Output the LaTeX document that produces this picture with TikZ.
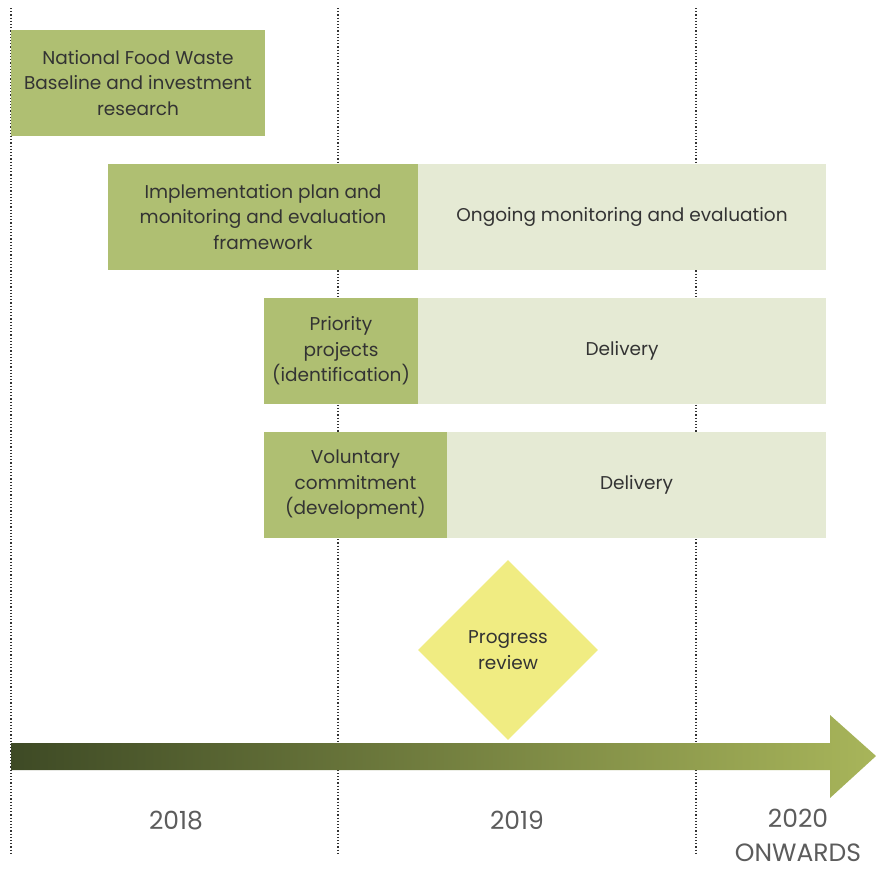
\documentclass[tikz,border=0pt]{standalone}
\usepackage{fontspec}
\setmainfont{Poppins}
\usetikzlibrary{shapes.geometric}
\definecolor{phasegreen}{HTML}{AFBF72}
\definecolor{ongoinggreen}{HTML}{E5EAD4}
\definecolor{reviewyellow}{HTML}{F0EC82}
\definecolor{arrowdark}{HTML}{3E4A25}
\definecolor{arrowlight}{HTML}{A8B55A}
\definecolor{textgrey}{HTML}{333333}
\tikzset{
  phase/.style={fill=phasegreen, minimum height=106pt, inner sep=0pt, align=center,
    text=textgrey, font=\fontsize{18.5}{25.5}\selectfont},
  ongoing/.style={phase, fill=ongoinggreen},
  year/.style={text=textgrey!80, inner sep=0pt, text depth=0pt, anchor=south,
    font=\fontsize{25}{34}\selectfont, align=center}
}
\begin{document}
\begin{tikzpicture}[x=1pt,y=-1pt]
    \path[use as bounding box, fill=white] (0,0) rectangle (877,871);
    % year dividers
    \foreach \x/\n in {11/a,338/b,696/c}{
        \coordinate (top\n) at (\x,8);
        \coordinate (bot\n) at (\x,855);
        \draw[dotted, line width=1.2pt, textgrey] (top\n) -- (bot\n);
    }
    \node[phase, minimum width=254pt] (baseline) at (138,83) {National Food Waste\\Baseline and investment\\research};
    \node[phase, minimum width=310pt] (plan) at (263,217) {Implementation plan and\\monitoring and evaluation\\framework};
    \node[ongoing, minimum width=408pt] (monitoring) at (622,217) {Ongoing monitoring and evaluation};
    \node[phase, minimum width=154pt] (priority) at (341,351) {Priority\\projects\\(identification)};
    \node[ongoing, minimum width=408pt] (delivery1) at (622,351) {Delivery};
    \node[phase, minimum width=183pt] (voluntary) at (355.5,485) {Voluntary\\commitment\\(development)};
    \node[ongoing, minimum width=379pt] (delivery2) at (636.5,485) {Delivery};
    \node[diamond, fill=reviewyellow, minimum width=180pt, minimum height=180pt, inner sep=0pt,
        align=center, text=textgrey, font=\fontsize{18.5}{25.5}\selectfont] (review) at (508,650) {Progress\\review};
    % time arrow
    \shade[left color=arrowdark, right color=arrowlight]
        (11,743) -- (830,743) -- (830,715) -- (876,756) -- (830,798) -- (830,770) -- (11,770) -- cycle;
    \node[year] (y2018) at (176,829.5) {2018};
    \node[year] (y2019) at (517,829.5) {2019};
    \node[year] (y2020) at (798,862) {2020\\ONWARDS};
\end{tikzpicture}
\end{document}
